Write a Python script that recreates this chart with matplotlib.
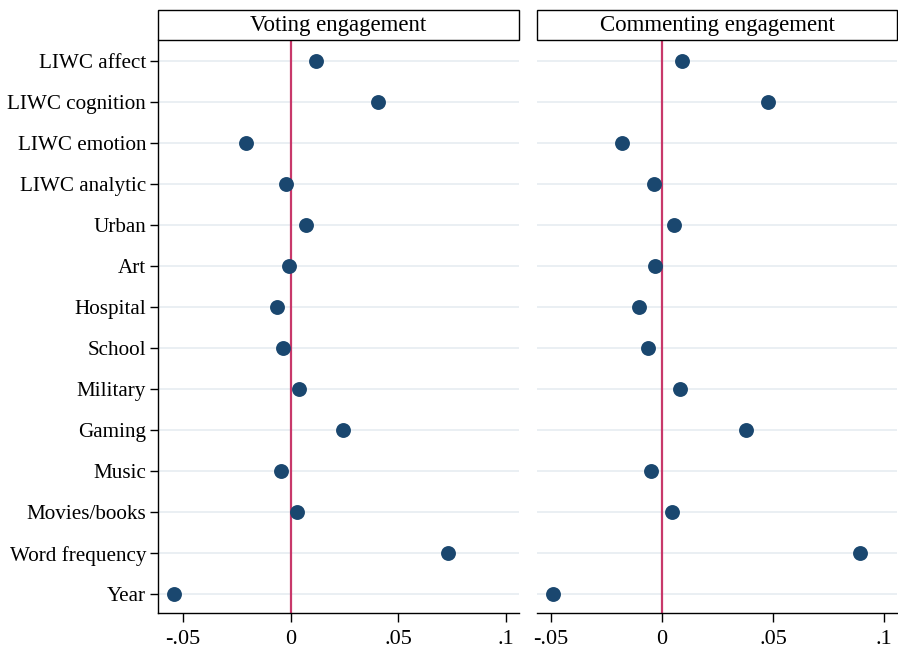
import matplotlib
matplotlib.use("Agg")
import matplotlib.pyplot as plt
from matplotlib.patches import Rectangle

plt.rcParams['font.family'] = ['Liberation Serif', 'DejaVu Serif']

labels = ["LIWC affect", "LIWC cognition", "LIWC emotion", "LIWC analytic",
          "Urban", "Art", "Hospital", "School", "Military", "Gaming",
          "Music", "Movies/books", "Word frequency", "Year"]

voting = [0.0117, 0.0406, -0.0207, -0.0022, 0.0071, -0.0008, -0.0065,
          -0.0034, 0.0038, 0.0244, -0.0046, 0.0031, 0.0730, -0.0540]

commenting = [0.0091, 0.0478, -0.0181, -0.0036, 0.0055, -0.0030, -0.0105,
              -0.0062, 0.0080, 0.0378, -0.0049, 0.0045, 0.0889, -0.0490]

panel_titles = ["Voting engagement", "Commenting engagement"]
xticks = [-0.05, 0, 0.05, 0.1]
xticklabels = ["-.05", "0", ".05", ".1"]

W, H = 898, 651
fig = plt.figure(figsize=(W / 100, H / 100), dpi=100)

# axes boxes in pixels: left, right, and shared top/bottom
top_px, bot_px = 40, 613
boxes = [(158, 519), (537, 897)]
xlims = [(-0.0615, 0.1059), (-0.0562, 0.1057)]
navy = "#1a476f"
refred = "#c8386a"
grid_c = "#e8eef2"

ypos = list(range(len(labels)))

for i, (vals, title) in enumerate(zip([voting, commenting], panel_titles)):
    l, r = boxes[i]
    ax = fig.add_axes([l / W, 1 - bot_px / H, (r - l) / W, (bot_px - top_px) / H])
    for y in ypos:
        ax.axhline(y, color=grid_c, lw=1.3, zorder=0)
    ax.axvline(0, color=refred, lw=1.6, zorder=1)
    ax.scatter(vals, ypos, s=115, color=navy, zorder=3, linewidths=0)
    ax.set_xlim(*xlims[i])
    ax.set_ylim(13.46, -0.51)
    ax.set_xticks(xticks)
    ax.set_xticklabels(xticklabels, fontsize=16)
    ax.tick_params(axis='x', length=6.5, width=1, pad=6)
    for s in ["top", "right"]:
        ax.spines[s].set_visible(False)
    ax.spines["bottom"].set_linewidth(1)
    if i == 0:
        ax.set_yticks(ypos)
        ax.set_yticklabels(labels, fontsize=15.2)
        ax.tick_params(axis='y', length=6, width=1, pad=2.5)
        ax.spines["left"].set_linewidth(1)
    else:
        ax.set_yticks([])
        ax.spines["left"].set_visible(False)

    # header strip above each panel
    hh = 30 / (bot_px - top_px)
    ax.add_patch(Rectangle((0, 1), 1, hh, transform=ax.transAxes,
                           facecolor="white", edgecolor="black", lw=1,
                           clip_on=False))
    ax.text(0.5, 1 + hh / 2, title, transform=ax.transAxes, ha="center",
            va="center", fontsize=16.5)

fig.savefig("out.png", dpi=100)
